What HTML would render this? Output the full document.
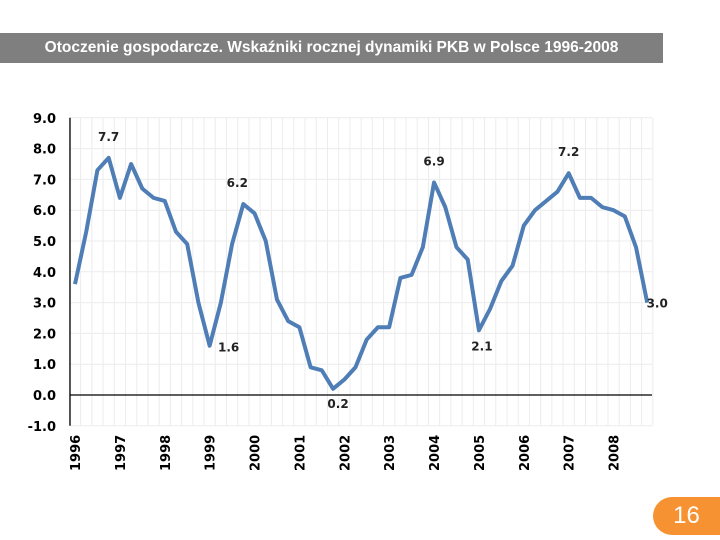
<!DOCTYPE html>
<html><head><meta charset="utf-8"><style>
body{margin:0;width:720px;height:540px;background:#fff;overflow:hidden;position:relative;font-family:"Liberation Sans",sans-serif}
#title{position:absolute;left:0;top:33px;width:663px;height:30px;background:#7f7f7f;color:#fff;font-size:15.5px;line-height:30px;text-align:center;font-family:"Liberation Sans",sans-serif;font-weight:bold}
#page{position:absolute;left:653px;top:497px;width:67px;height:38px;background:#f79232;border-radius:19px 0 0 19px;color:#fff;font-size:24px;line-height:38px;text-align:center}
</style></head><body>
<div id="title">Otoczenie gospodarcze. Wskaźniki rocznej dynamiki PKB w Polsce 1996-2008</div>
<svg id="chart" width="720" height="540" style="position:absolute;left:0;top:0"></svg>
<div id="page">16</div>
<script>
const years=["1996","1997","1998","1999","2000","2001","2002","2003","2004","2005","2006","2007","2008"];
const yTicks=[9,8,7,6,5,4,3,2,1,0,-1];
const gdp=[3.6,5.3,7.3,7.7,6.4,7.5,6.7,6.4,6.3,5.3,4.9,3.0,1.6,3.0,4.9,6.2,5.9,5.0,3.1,2.4,2.2,0.9,0.8,0.2,0.5,0.9,1.8,2.2,2.2,3.8,3.9,4.8,6.9,6.1,4.8,4.4,2.1,2.8,3.7,4.2,5.5,6.0,6.3,6.6,7.2,6.4,6.4,6.1,6.0,5.8,4.8,3.0];
const labelIdx=[3,15,12,23,32,44,36,51];
const labelText=["7.7","6.2","1.6","0.2","6.9","7.2","2.1","3.0"];
const svg=document.getElementById('chart');const NS='http://www.w3.org/2000/svg';
const x0=75,dx=11.22,yT=118,yZ=395,u=30.8;
const X=i=>x0+i*dx, Y=v=>yZ-v*u;
function mk(t,a){const e=document.createElementNS(NS,t);for(const k in a)e.setAttribute(k,a[k]);svg.appendChild(e);return e;}
for(let i=0;i<=gdp.length;i++){const l=mk('line',{x1:X(i)-5.6,x2:X(i)-5.6,y1:Y(9),y2:Y(-1),stroke:'#ececec','stroke-width':1});

}
yTicks.forEach(v=>{const g=mk('line',{x1:70,x2:652,y1:Y(v),y2:Y(v),stroke:v===0?'#000':'#ececec','stroke-width':v===0?1.3:1});


const t=mk('text',{x:56,y:Y(v)+5,'text-anchor':'end','font-size':13,'font-weight':'bold','font-family':'DejaVu Sans, sans-serif',fill:'#000'});t.textContent=v.toFixed(1);

});
const ax=mk('line',{x1:70,x2:70,y1:Y(9),y2:Y(-1),stroke:'#000','stroke-width':1.3});


years.forEach((yr,k)=>{const cx=X(k*4),t=mk('text',{x:0,y:0,transform:`translate(${cx+5},471) rotate(-90)`,'font-size':13,'font-weight':'bold','font-family':'DejaVu Sans, sans-serif',fill:'#000'});t.textContent=yr;

});
const p=mk('polyline',{points:gdp.map((v,i)=>X(i)+','+Y(v)).join(' '),fill:'none',stroke:'#4f7db5','stroke-width':4,'stroke-linejoin':'round'});


labelIdx.forEach((i,k)=>{const v=gdp[i];const low=(k===2||k===3||k===6);
let tx=X(i),ty=low?Y(v)+17:Y(v)-17;
if(k===2){tx=X(i)+19;ty=Y(v)+6;} if(k===3){tx=X(i)+5;ty=Y(v)+19;} if(k===7){tx=X(i)+10;ty=Y(v)+5;} if(k===1){tx=X(i)-6;}
if(k===6){ty=Y(v)+20;tx=X(i)+3;}
const t=mk('text',{x:tx,y:ty,'text-anchor':'middle','font-size':12,'font-weight':'bold','font-family':'DejaVu Sans, sans-serif',fill:'#222'});t.textContent=labelText[k];

});
</script>
</body></html>
